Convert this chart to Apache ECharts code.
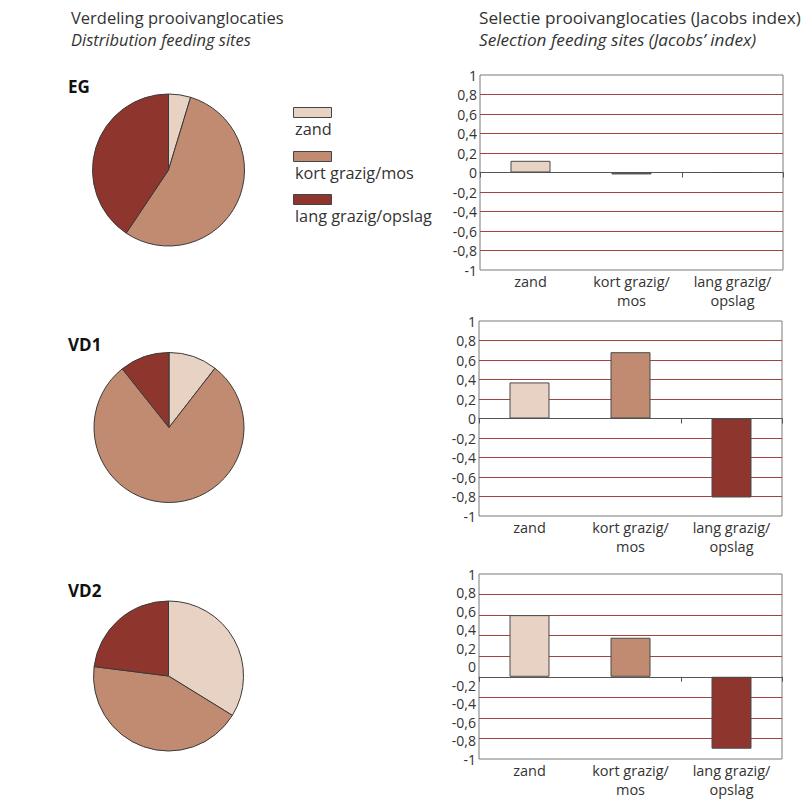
<!DOCTYPE html>
<html>
<head>
<meta charset="utf-8">
<script src="https://cdn.jsdelivr.net/npm/echarts@6/dist/echarts.min.js"></script>
<style>
html,body{margin:0;padding:0;background:#fff;}
#chart{width:808px;height:799px;}
</style>
</head>
<body>
<div id="chart"></div>
<script>
// ---- data ----
const categories = ['zand', 'kort grazig/mos', 'lang grazig/opslag'];
const sites = ['EG', 'VD1', 'VD2'];
// distribution of feeding sites (percent)
const pieEG  = [4.7, 54.7, 40.6];
const pieVD1 = [10.5, 78.8, 10.7];
const pieVD2 = [33.8, 43.2, 23.0];
// Jacobs' selection index
const jacobsEG  = [0.12, -0.02, 0];
const jacobsVD1 = [0.37, 0.68, -0.81];
const jacobsVD2 = [0.60, 0.38, -0.70];
// tick labels
const yTickLabels = ['-1', '-0,8', '-0,6', '-0,4', '-0,2', '0', '0,2', '0,4', '0,6', '0,8', '1'];
const titleLeft = ['Verdeling prooivanglocaties', 'Distribution feeding sites'];
const titleRight = ['Selectie prooivanglocaties (Jacobs index)', 'Selection feeding sites (Jacobs\u2019 index)'];

// ---- styles ----
const colors = ['#e7d2c4', '#c18b71', '#8e352e'];
const FONT = "'Open Sans', 'Noto Sans', sans-serif";
const TXT = '#333333';
const GRIDRED = '#a0443d';

const pies = [pieEG, pieVD1, pieVD2];
const bars = [jacobsEG, jacobsVD1, jacobsVD2];
const pieCenters = [[168.5, 170], [169, 427.5], [168.5, 676]];
const pieRadius = [76, 75, 75];
const siteTop = [76, 334, 580];
const grids = [
  {left: 480, top: 75, width: 303, height: 195},
  {left: 479, top: 321, width: 303, height: 195},
  {left: 479, top: 574, width: 303, height: 186}
];

function tickLabel(v) {
  const i = Math.round((v + 1) / 0.2);
  return yTickLabels[i] !== undefined ? yTickLabels[i] : '';
}

const chart = echarts.init(document.getElementById('chart'), null, {renderer: 'svg'});

const title = [
  {text: titleLeft[0], left: 71, top: 6, padding: 0, textStyle: {fontFamily: FONT, fontSize: 16.5, fontWeight: 'normal', color: TXT, lineHeight: 22}},
  {text: titleLeft[1], left: 71, top: 28, padding: 0, textStyle: {fontFamily: FONT, fontSize: 16.5, fontWeight: 'normal', fontStyle: 'italic', color: TXT, lineHeight: 22}},
  {text: titleRight[0], left: 479, top: 6, padding: 0, textStyle: {fontFamily: FONT, fontSize: 17.2, fontWeight: 'normal', color: TXT, lineHeight: 22}},
  {text: titleRight[1], left: 479, top: 28, padding: 0, textStyle: {fontFamily: FONT, fontSize: 17.2, fontWeight: 'normal', fontStyle: 'italic', color: TXT, lineHeight: 22}}
];
sites.forEach((s, i) => {
  title.push({text: s, left: 68, top: siteTop[i], padding: 0,
    textStyle: {fontFamily: FONT, fontSize: 17, fontWeight: 'bold', color: '#111', lineHeight: 20}});
});

const gridOpt = grids.map(g => Object.assign({show: true, borderColor: '#7a7a7a', borderWidth: 1, backgroundColor: 'transparent', containLabel: false}, g));

const xAxis = [];
const yAxis = [];
const series = [];

grids.forEach((g, i) => {
  // label axis at bottom
  xAxis.push({
    type: 'category', gridIndex: i, data: categories, position: 'bottom',
    axisLine: {show: false, onZero: false}, axisTick: {show: false},
    axisLabel: {interval: 0, margin: 2, fontFamily: FONT, fontSize: 14.5, lineHeight: 19, color: TXT,
      formatter: v => v.replace('/', '/\n')}
  });
  // zero line axis with ticks
  const dataY = yAxis.length;
  xAxis.push({
    type: 'category', gridIndex: i, data: categories, position: 'bottom',
    axisLine: {show: true, onZero: true, onZeroAxisIndex: dataY, lineStyle: {color: '#555', width: 1}},
    axisTick: {show: true, length: 5, lineStyle: {color: '#555'}},
    axisLabel: {show: false}
  });
  const isOdd = (i === 2);
  yAxis.push({
    type: 'value', gridIndex: i, min: isOdd ? -0.8 : -1, max: 1, interval: 0.2,
    axisLine: {show: false}, axisTick: {show: false},
    axisLabel: {show: !isOdd, margin: 3, fontFamily: FONT, fontSize: 14, color: TXT, formatter: tickLabel},
    splitLine: {show: true, showMinLine: false, showMaxLine: false, lineStyle: {color: GRIDRED, width: 1}}
  });
  if (isOdd) {
    yAxis.push({
      type: 'value', gridIndex: i, min: -1, max: 1, interval: 0.2, position: 'left',
      axisLine: {show: false}, axisTick: {show: false}, splitLine: {show: false},
      axisLabel: {show: true, margin: 3, fontFamily: FONT, fontSize: 14, color: TXT, formatter: tickLabel}
    });
  }
  series.push({
    type: 'bar', xAxisIndex: i * 2, yAxisIndex: dataY, data: bars[i], barWidth: 40,
    itemStyle: {color: p => colors[p.dataIndex], borderColor: '#4a4a4a', borderWidth: 1},
    emphasis: {disabled: true}, silent: true
  });
});

pies.forEach((vals, i) => {
  series.push({
    type: 'pie', center: pieCenters[i], radius: pieRadius[i], startAngle: 90, clockwise: true,
    data: vals.map((v, k) => ({name: categories[k], value: v, itemStyle: {color: colors[k]}})),
    itemStyle: {borderColor: '#3a3a3a', borderWidth: 1},
    label: {show: false}, labelLine: {show: false}, silent: true, emphasis: {disabled: true}
  });
});

// legend (icon above text)
const legendY = [107, 151, 194];
const graphic = [];
categories.forEach((c, k) => {
  graphic.push({type: 'rect', left: 293, top: legendY[k], shape: {width: 38, height: 10},
    style: {fill: colors[k], stroke: '#444', lineWidth: 1}, silent: true});
  graphic.push({type: 'text', left: 295, top: legendY[k] + 14, silent: true,
    style: {text: c, fill: TXT, font: '16.3px ' + FONT}});
});

chart.setOption({
  animation: false,
  backgroundColor: '#ffffff',
  title: title,
  grid: gridOpt,
  xAxis: xAxis,
  yAxis: yAxis,
  series: series,
  graphic: graphic
});
</script>
</body>
</html>
